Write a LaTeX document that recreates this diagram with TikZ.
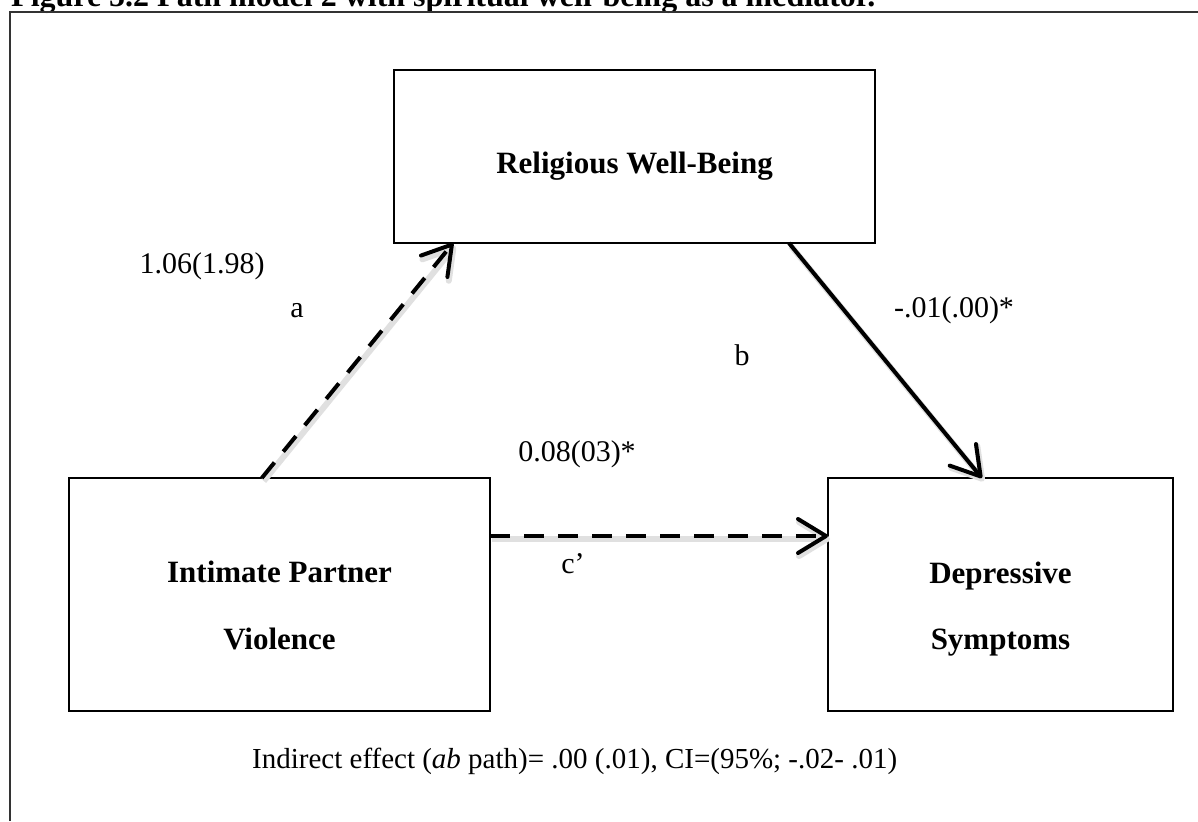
\documentclass[tikz,border=0pt]{standalone}
\usepackage{fontspec}
\setmainfont{Liberation Serif}
\usetikzlibrary{arrows.meta,calc}
\begin{document}
\begin{tikzpicture}[x=1pt,y=-1pt,
  boxnode/.style={draw=black, line width=1.7pt, inner sep=0pt, outer sep=0pt},
  boxlabel/.style={inner sep=0pt, font=\fontsize{31}{36}\selectfont\bfseries},
  lab/.style={inner sep=0pt, font=\fontsize{30}{36}\selectfont},
  captext/.style={inner sep=0pt, font=\fontsize{29}{34}\selectfont},
  titletext/.style={inner sep=0pt, font=\fontsize{32}{38}\selectfont\bfseries},
  frameline/.style={draw=black!80, line width=2pt},
  tip/.style={-{Straight Barb[length=28pt, width=34pt, round]}},
  shadowed/.style={preaction={draw=black!12, line width=6pt, transform canvas={shift={(2pt,-3pt)}}}},
  dasharrow/.style={tip, shadowed, line width=4pt, dash pattern=on 20pt off 14pt},
  solidarrow/.style={tip, shadowed, line width=4pt}
]
\useasboundingbox (0,0) rectangle (1198,821);
\clip (0,0) rectangle (1198,821);
\fill[white] (0,0) rectangle (1198,821);

% title and frame
\node[titletext, anchor=base west] (ttl) at (11,7) {Figure 5.2 Path model 2 with spiritual well-being as a mediator.};
\draw[frameline] (10,821) -- (10,12.5) -- (1198,12.5);

% boxes
\node[boxnode, minimum width=481pt, minimum height=173pt] (rwb) at (634.5,156.5) {};
\node[boxnode, minimum width=421pt, minimum height=233pt] (ipv) at (279.5,594.5) {};
\node[boxnode, minimum width=345pt, minimum height=233pt] (ds) at (1000.5,594.5) {};

\node[boxlabel, anchor=base] (rwbt) at (634.5,174) {Religious Well-Being};
\node[boxlabel, anchor=base] (ipvt1) at (279.5,582) {Intimate Partner};
\node[boxlabel, anchor=base] (ipvt2) at (279.5,649) {Violence};
\node[boxlabel, anchor=base] (dst1) at (1000.5,583) {Depressive};
\node[boxlabel, anchor=base] (dst2) at (1000.5,649) {Symptoms};

% arrows
\draw[dasharrow] ($(ipv.north west)!0.458!(ipv.north east)$) -- ($(rwb.south west)!0.123!(rwb.south east)$);
\draw[solidarrow] ($(rwb.south west)!0.821!(rwb.south east)$) -- ($(ds.north west)!0.446!(ds.north east)$);
\draw[dasharrow] ($(ipv.north east)!0.249!(ipv.south east)$) -- ($(ds.north west)!0.249!(ds.south west)$);

% path labels
\node[lab, anchor=base] (la1) at (202,273) {1.06(1.98)};
\node[lab, anchor=base] (la2) at (297,317) {a};
\node[lab, anchor=base] (lb1) at (954,317) {-.01(.00)*};
\node[lab, anchor=base] (lb2) at (742,365) {b};
\node[lab, anchor=base] (lc1) at (577,461) {0.08(03)*};
\node[lab, anchor=base] (lc2) at (573,573) {c’};

% caption
\node[captext, anchor=base west] (capt) at (252,768) {Indirect effect (\textit{ab} path)= .00 (.01), CI=(95\%; -.02- .01)};
\end{tikzpicture}
\end{document}
